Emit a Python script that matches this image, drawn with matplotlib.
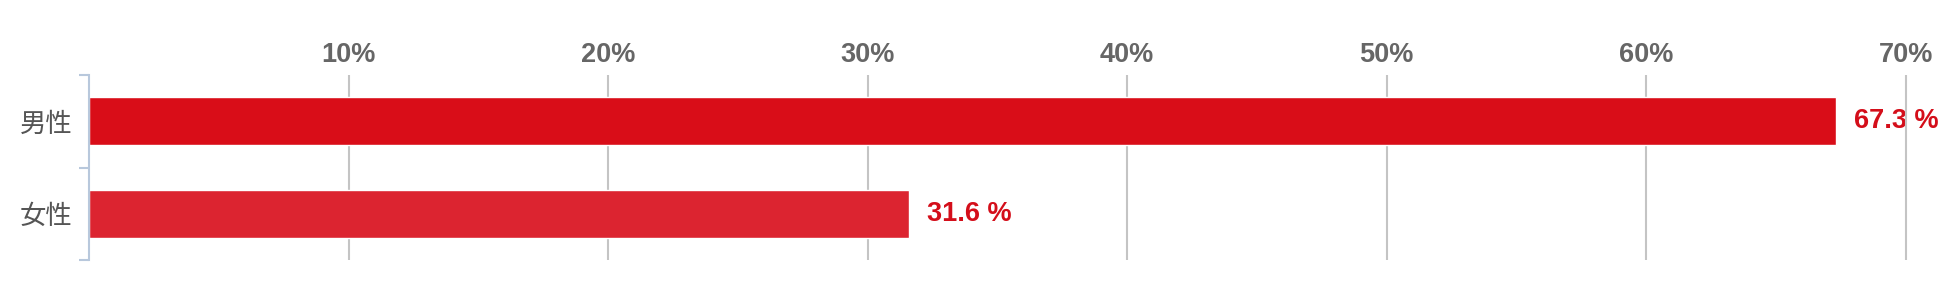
import matplotlib
matplotlib.use("Agg")
import matplotlib.pyplot as plt

# data
categories = ["男性", "女性"]
values = [67.3, 31.6]
bar_colors = ["#d90d18", "#dc2430"]
xticks = [10, 20, 30, 40, 50, 60, 70]
xtick_labels = ["10%", "20%", "30%", "40%", "50%", "60%", "70%"]

W, H = 1950, 288
fig = plt.figure(figsize=(W / 100, H / 100), dpi=100)
ax = fig.add_axes([89 / W, 1 - 260 / H, (W - 89) / W, 185 / H])

y = list(range(len(categories)))
ax.barh(y, values, height=0.52, color=bar_colors, edgecolor="white", linewidth=1.0, zorder=2)

for yi, v in zip(y, values):
    ax.text(v + 0.7, yi, f"{v:.1f} %", va="center", ha="left", color="#d40e1a",
            fontsize=19.5, fontweight="bold", family="Liberation Sans", zorder=0.3)

ax.set_xlim(0, 71.7)
ax.set_ylim(1.5, -0.5)

# x axis on top, labels only
ax.xaxis.tick_top()
ax.set_xticks(xticks)
ax.set_xticklabels(xtick_labels, fontsize=19.5, fontweight="bold", color="#666666",
                   family="Liberation Sans")
ax.tick_params(axis="x", length=0, pad=5)
ax.grid(axis="x", color="#c4c4c4", linewidth=1.5)
ax.set_axisbelow(True)

# y axis: bracket ticks at boundaries, labels in the middle
ax.set_yticks([-0.5, 0.5, 1.5])
ax.set_yticklabels([])
ax.tick_params(axis="y", which="major", length=7, width=1.5, color="#b8c8dc")
ax.set_yticks(y, minor=True)
ax.set_yticklabels(categories, minor=True, fontsize=19, color="#555555",
                   family=["Noto Sans CJK JP", "DejaVu Sans"])
ax.tick_params(axis="y", which="minor", length=0, pad=12)

for s in ["top", "right", "bottom"]:
    ax.spines[s].set_visible(False)
ax.spines["left"].set_color("#b8c8dc")
ax.spines["left"].set_linewidth(1.5)

fig.savefig("out.png", dpi=100)
